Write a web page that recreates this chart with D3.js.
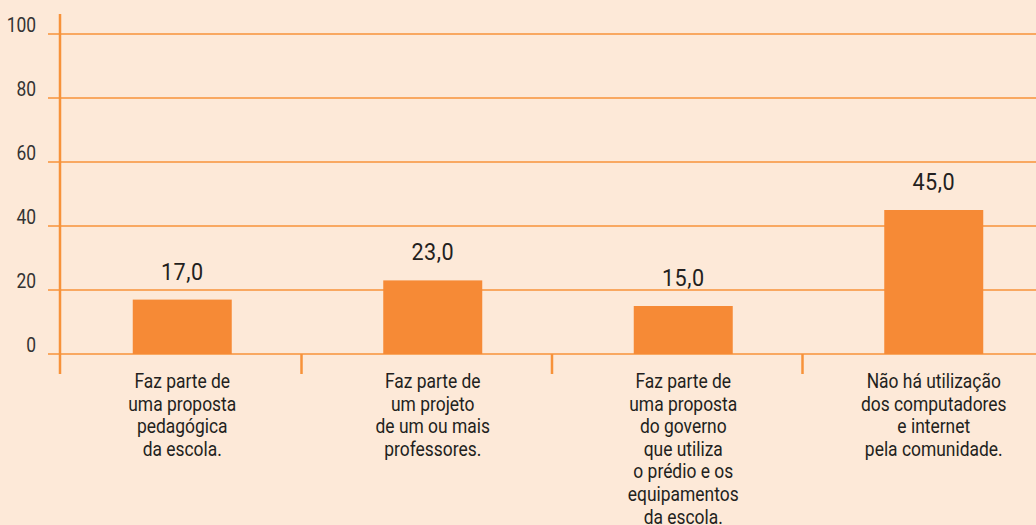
<!DOCTYPE html>
<html>
<head>
<meta charset="utf-8">
<script src="https://cdn.jsdelivr.net/npm/d3@7"></script>
<style>
  html, body { margin: 0; padding: 0; background: #fde9d8; }
  svg { display: block; }
  text { font-family: "Roboto", sans-serif; fill: #231f20; }
</style>
</head>
<body>
<div id="chart"></div>
<script>
  'use strict';

  // valores do gráfico
  var categories = [
    ["Faz parte de", "uma proposta", "pedagógica", "da escola."],
    ["Faz parte de", "um projeto", "de um ou mais", "professores."],
    ["Faz parte de", "uma proposta", "do governo", "que utiliza", "o prédio e os", "equipamentos", "da escola."],
    ["Não há utilização", "dos computadores", "e internet", "pela comunidade."]
  ];
  var values = [17.0, 23.0, 15.0, 45.0];
  var yTicks = [0, 20, 40, 60, 80, 100];

  var width = 1036, height = 525;
  var orange = "#f7923a", barFill = "#f68a36";
  var narrow = 0.83; // fonte condensada (aprox.)

  var svg = d3.select("#chart").append("svg")
    .attr("width", width)
    .attr("height", height);

  var y = d3.scaleLinear().domain([0, 100]).range([354, 34]);
  var x = d3.scaleBand()
    .domain(d3.range(values.length))
    .range([51, 1053]);
  var shift = 6, barW = 99;
  var cx = function (i) { return x(i) + x.bandwidth() / 2 + shift; };

  // linhas de grade
  svg.selectAll("line.grid")
    .data(yTicks)
    .enter().append("line")
    .attr("class", "grid")
    .attr("x1", 48).attr("x2", width)
    .attr("y1", function (d) { return y(d); })
    .attr("y2", function (d) { return y(d); })
    .style("stroke", orange)
    .style("stroke-width", 1.5);

  svg.selectAll("text.ytick")
    .data(yTicks)
    .enter().append("text")
    .attr("class", "ytick")
    .attr("transform", function (d) { return "translate(36," + (y(d) - 2.5) + ") scale(" + narrow + ",1)"; })
    .attr("text-anchor", "end")
    .style("font-size", "21px")
    .style("fill", "#333")
    .text(function (d) { return d; });

  // barras
  svg.selectAll("rect.bar")
    .data(values)
    .enter().append("rect")
    .attr("class", "bar")
    .attr("x", function (d, i) { return cx(i) - barW / 2; })
    .attr("y", function (d) { return y(d); })
    .attr("width", barW)
    .attr("height", function (d) { return y(0) - y(d); })
    .style("fill", barFill);

  svg.selectAll("text.value")
    .data(values)
    .enter().append("text")
    .attr("class", "value")
    .attr("transform", function (d, i) { return "translate(" + cx(i) + "," + (y(d) - 20) + ") scale(0.92,1)"; })
    .attr("text-anchor", "middle")
    .style("font-size", "23.5px")
    .style("letter-spacing", "0.5px")
    .text(function (d) { return d3.format(".1f")(d).replace(".", ","); });

  // eixos
  svg.append("line")
    .attr("x1", 60).attr("x2", 60)
    .attr("y1", 14).attr("y2", 374)
    .style("stroke", orange)
    .style("stroke-width", 2.5);

  svg.selectAll("line.xtick")
    .data(d3.range(1, values.length))
    .enter().append("line")
    .attr("class", "xtick")
    .attr("x1", function (d) { return x(d); })
    .attr("x2", function (d) { return x(d); })
    .attr("y1", y(0)).attr("y2", 374)
    .style("stroke", orange)
    .style("stroke-width", 2.5);

  // rótulos das categorias
  var cat = svg.selectAll("text.cat")
    .data(categories)
    .enter().append("text")
    .attr("class", "cat")
    .attr("transform", function (d, i) { return "translate(" + cx(i) + ",388) scale(" + narrow + ",1)"; })
    .attr("text-anchor", "middle")
    .style("font-size", "21px");

  cat.selectAll("tspan")
    .data(function (d) { return d; })
    .enter().append("tspan")
    .attr("x", 0)
    .attr("y", function (d, j) { return j * 22.6; })
    .text(function (d) { return d; });
</script>
</body>
</html>
